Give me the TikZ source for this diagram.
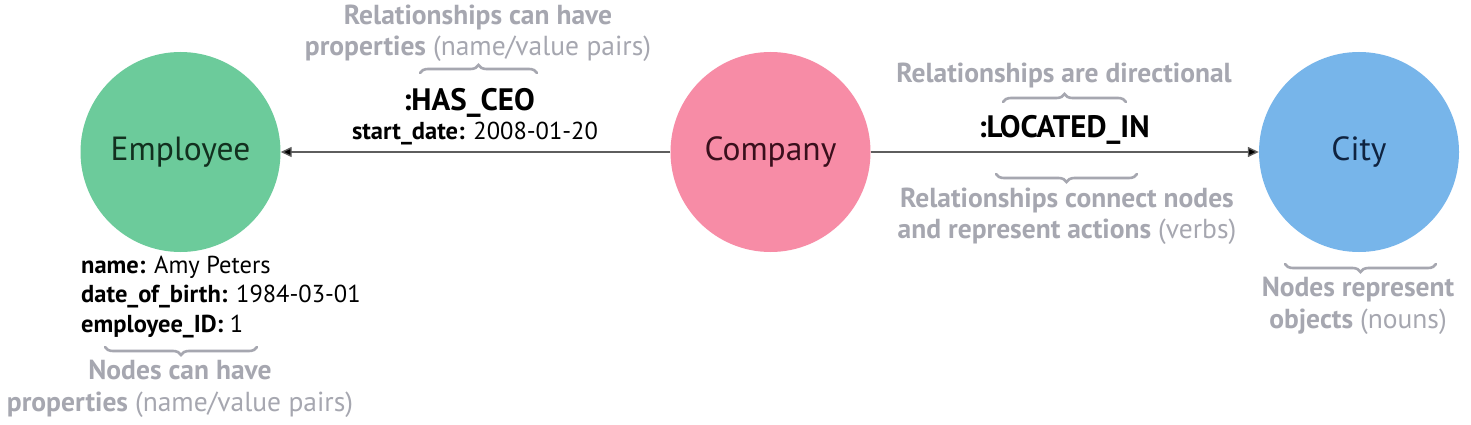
\documentclass[tikz,border=0pt]{standalone}
\usepackage{fontspec}
\setmainfont{PT Sans}
\usetikzlibrary{arrows.meta,decorations.pathreplacing}
\definecolor{empgreen}{HTML}{6CCB9B}
\definecolor{comppink}{HTML}{F78CA6}
\definecolor{cityblue}{HTML}{77B5EA}
\definecolor{notegray}{HTML}{A6A7B0}
\definecolor{linegray}{HTML}{5E5E5E}
\definecolor{empink}{HTML}{12301F}
\definecolor{compink}{HTML}{3A0F1C}
\definecolor{cityink}{HTML}{0F2340}
\begin{document}
\begin{tikzpicture}[x=1pt,y=-1pt,
  entity/.style={circle,minimum size=200pt,inner sep=0pt,font=\fontsize{33.5}{36}\selectfont},
  note/.style={align=center,text=notegray,font=\fontsize{27.5}{31.5}\selectfont\bfseries,inner sep=0pt},
  rellabel/.style={font=\fontsize{31}{33}\selectfont\bfseries,inner sep=0pt},
  prop/.style={font=\fontsize{24.5}{29.5}\selectfont,inner sep=0pt},
  gbrace/.style={draw=notegray,line width=2.6pt,line cap=round,decorate,decoration={brace,amplitude=8pt}},
  rel/.style={draw=linegray,line width=1.4pt,-{Triangle[length=11pt,width=10pt,fill=black]}}
]
\useasboundingbox (0,0) rectangle (1471,425);
\fill[white] (0,0) rectangle (1471,425);

\node[entity,fill=empgreen,text=empink] (emp) at (180.5,152) {Employee};
\node[entity,fill=comppink,text=compink] (comp) at (770.5,152) {Company};
\node[entity,fill=cityblue,text=cityink] (city) at (1359,152) {City};

\draw[rel] (comp) -- (emp);
\draw[rel] (comp) -- (city);

\node[rellabel] (hasceo) at (469,103) {:HAS\_CEO};
\node[prop] (startdate) at (475,134) {\textbf{start\_date:} 2008-01-20};
\node[rellabel] (located) at (1064,130) {:LOCATED\_IN};

\node[prop,align=left,anchor=west] (empprops) at (81,297)
  {\textbf{name:} Amy Peters\\ \textbf{date\_of\_birth:} 1984-03-01\\ \textbf{employee\_ID:} 1};

\node[note] (relprop) at (478,33) {Relationships can have\\ properties \mdseries(name/value pairs)};
\node[note] (reldir) at (1064,75) {Relationships are directional};
\node[note] (relconn) at (1067,216) {Relationships connect nodes\\ and represent actions \mdseries(verbs)};
\node[note] (nodeprop) at (180,389) {Nodes can have\\ properties \mdseries(name/value pairs)};
\node[note] (noderep) at (1358,306) {Nodes represent\\ objects \mdseries(nouns)};

\coordinate (b1a) at (420,73); \coordinate (b1b) at (537,73);
\coordinate (b2a) at (1003,102); \coordinate (b2b) at (1126,102);
\coordinate (b3a) at (1137,174); \coordinate (b3b) at (996,174);
\coordinate (b4a) at (257,347); \coordinate (b4b) at (105,347);
\coordinate (b5a) at (1436,264); \coordinate (b5b) at (1285,264);
\draw[gbrace] (b1a) -- (b1b);
\draw[gbrace] (b2a) -- (b2b);
\draw[gbrace] (b3a) -- (b3b);
\draw[gbrace] (b4a) -- (b4b);
\draw[gbrace] (b5a) -- (b5b);
\end{tikzpicture}
\end{document}
